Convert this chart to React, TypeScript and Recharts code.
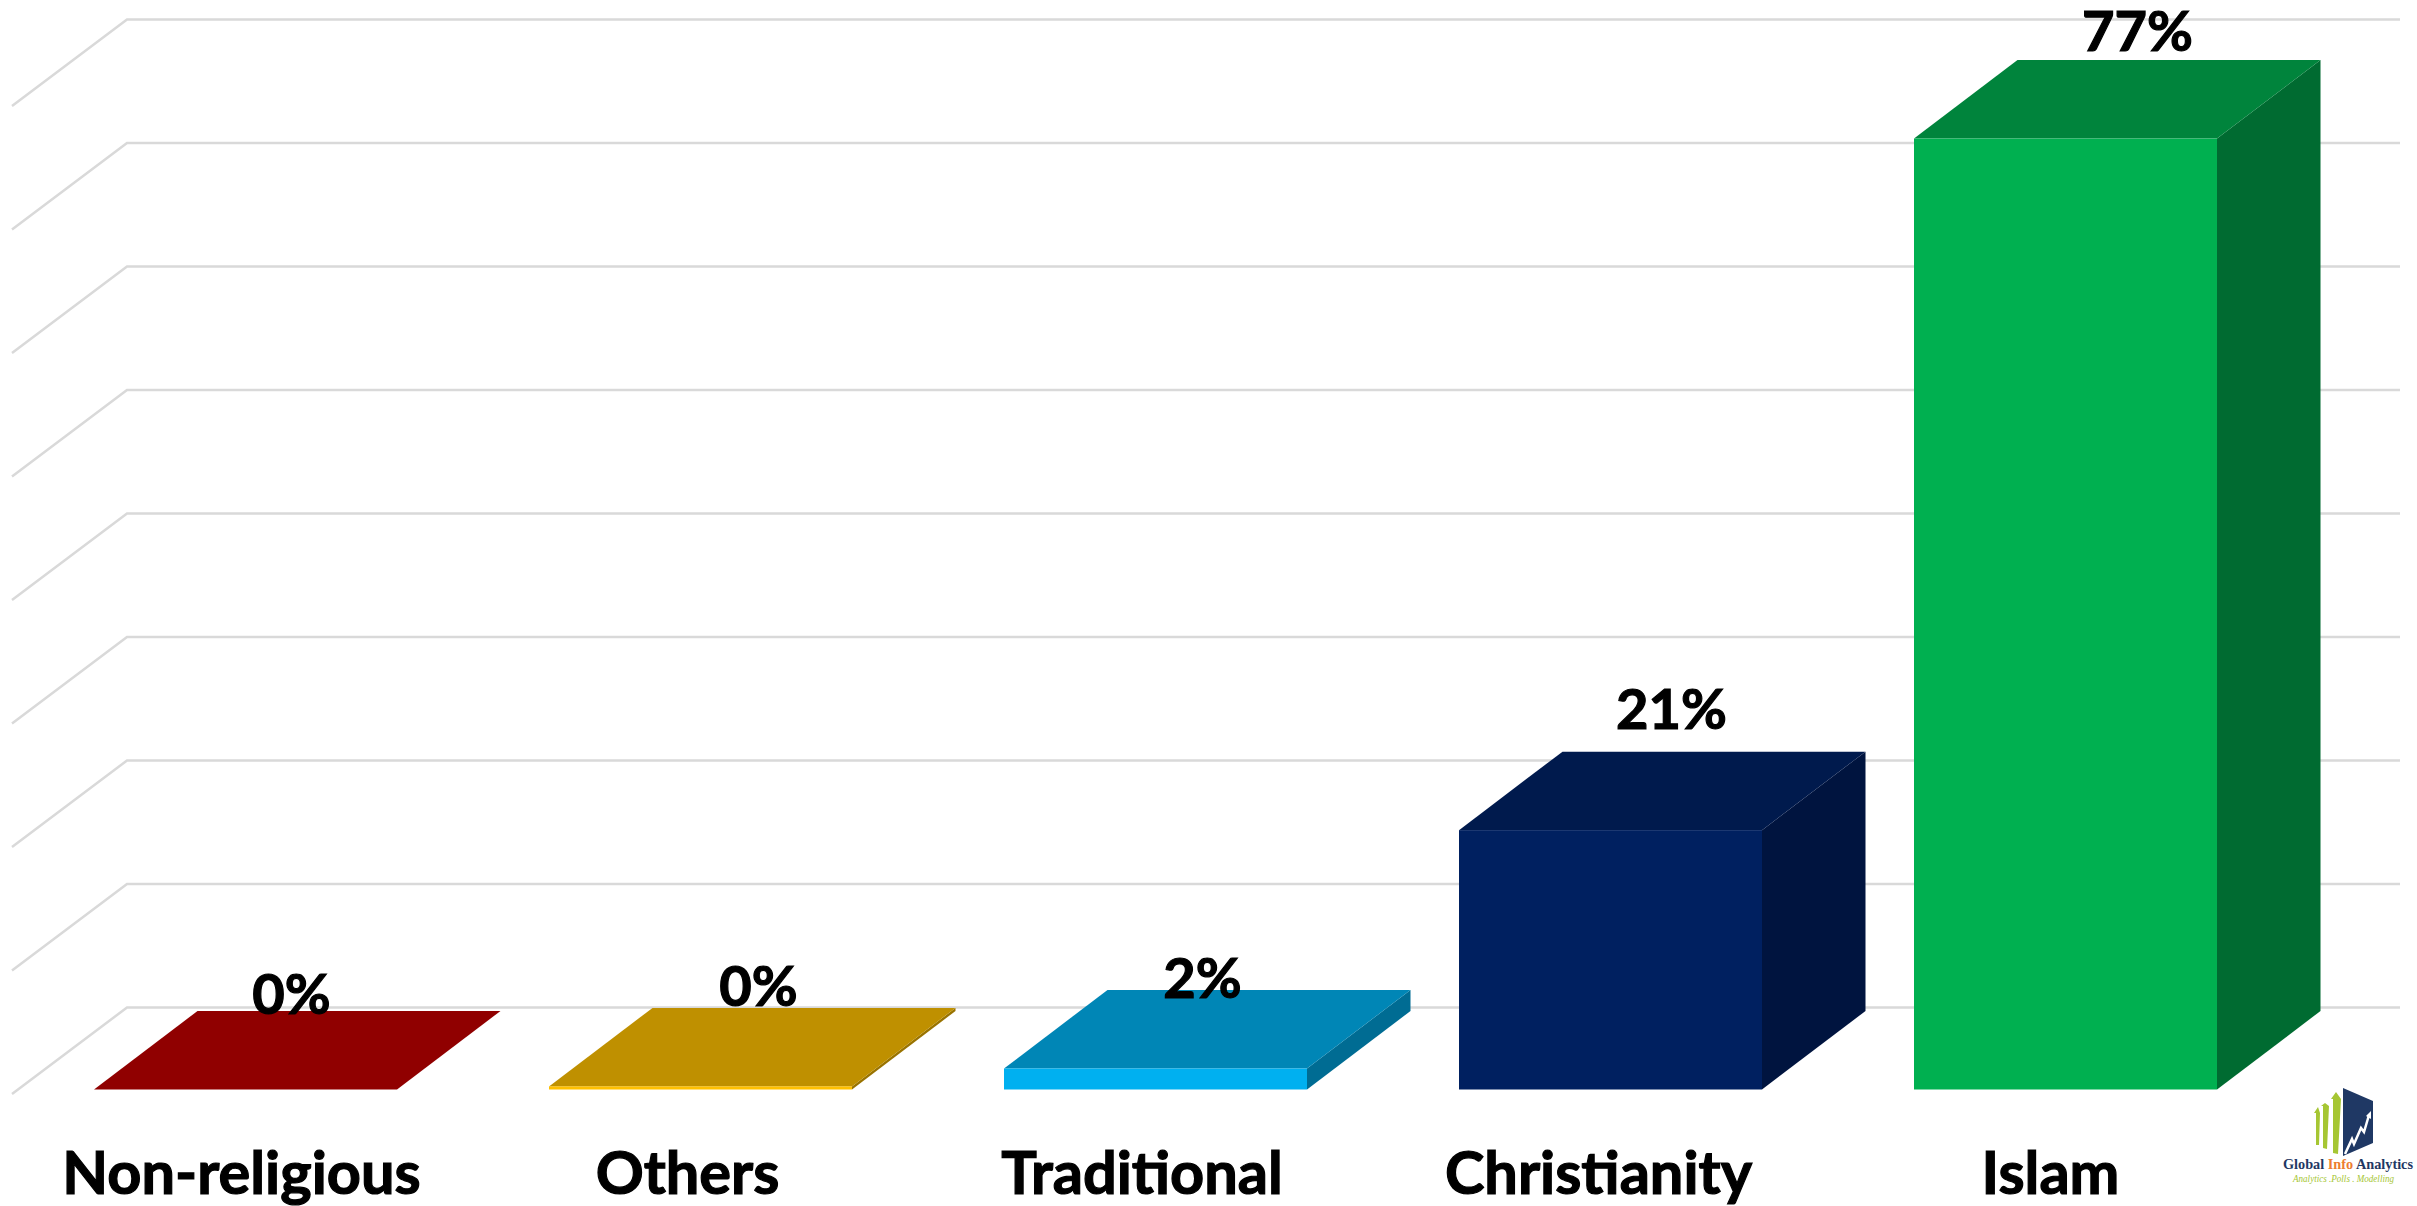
import { BarChart, Bar, XAxis, YAxis, CartesianGrid, LabelList } from "recharts";

const categories = ["Non-religious", "Others", "Traditional", "Christianity", "Islam"];
const shares = [0, 0.25, 1.7, 21, 77];
const shareLabels = ["0%", "0%", "2%", "21%", "77%"];
const gridTicks = [0, 10, 20, 30, 40, 50, 60, 70, 80];

const frontColors = ["#C00000", "#FFC000", "#00B0F0", "#002060", "#00B050"];
const topColors = ["#900000", "#BF9000", "#0086B6", "#001A4D", "#00843C"];
const sideColors = ["#730000", "#997300", "#006C93", "#00143F", "#006B31"];

// hand nudges, the source chart does not centre its labels on the bars
const tickNudge = [-4, -13, -13.5, -12, -15];
const labelNudge = [
  [46, -76],
  [58, -80],
  [47, -71],
  [61, -101],
  [72, -88],
];

const DEPTH_X = 103.5;
const DEPTH_Y = 78.5;
const FONT = "Lato, sans-serif";

const rows = categories.map((name, i) => ({ name, share: shares[i], label: shareLabels[i] }));

function GridLine(props: any) {
  const y = Number(props.y1);
  return (
    <polyline
      points={`12,${y + 4.5} 127,${y - 82} 2400,${y - 82}`}
      fill="none"
      stroke="#D9D9D9"
      strokeWidth={2.5}
    />
  );
}

function Cuboid(props: any) {
  const { x, y, width, height, index } = props;
  const r = x + width;
  const b = y + height;
  return (
    <g>
      <polygon
        points={`${r},${y} ${r + DEPTH_X},${y - DEPTH_Y} ${r + DEPTH_X},${b - DEPTH_Y} ${r},${b}`}
        fill={sideColors[index]}
      />
      <polygon
        points={`${x},${y} ${x + DEPTH_X},${y - DEPTH_Y} ${r + DEPTH_X},${y - DEPTH_Y} ${r},${y}`}
        fill={topColors[index]}
      />
      <rect x={x} y={y} width={width} height={height} fill={frontColors[index]} />
    </g>
  );
}

function ShareLabel(props: any) {
  const box = props.viewBox ?? props;
  const [dx, dy] = labelNudge[props.index];
  return (
    <text
      x={box.x + box.width / 2 + dx}
      y={box.y + dy}
      textAnchor="middle"
      fontFamily={FONT}
      fontWeight={700}
      fontSize={56}
      fill="#000"
      stroke="#000"
      strokeWidth={1.2}
    >
      {props.value}
    </text>
  );
}

function CategoryTick(props: any) {
  return (
    <text
      x={props.x + tickNudge[props.index]}
      y={1193.5}
      textAnchor="middle"
      fontFamily={FONT}
      fontWeight={700}
      fontSize={59.5}
      fill="#000"
      stroke="#000"
      strokeWidth={1.2}
    >
      {props.payload.value}
    </text>
  );
}

function Logo() {
  return (
    <svg width={2417} height={1206} style={{ position: "absolute", left: 0, top: 0, pointerEvents: "none" }}>
      <polygon points="2316,1145 2316,1113 2314,1113 2318,1107 2320,1113 2319,1145" fill="#A6C633" />
      <polygon points="2323,1148 2323,1106 2321,1106 2325,1103 2329,1106 2327,1149" fill="#A6C633" />
      <polygon points="2333,1153 2333,1099 2331,1099 2336,1092 2341,1099 2338,1154" fill="#A6C633" />
      <polygon points="2343,1088 2373,1101 2373,1143 2343,1156" fill="#1F3864" />
      <polyline
        points="2345,1154 2352,1139 2354,1144 2361,1128 2364,1132 2369,1115"
        fill="none"
        stroke="#fff"
        strokeWidth={2.5}
      />
      <polygon points="2366,1116 2371,1111 2371,1119" fill="#fff" />
      <text
        x={2283}
        y={1169}
        textLength={130}
        lengthAdjust="spacingAndGlyphs"
        fontFamily="Liberation Serif"
        fontWeight={700}
        fontSize={15}
        fill="#1F3864"
      >
        Global <tspan fill="#ED7D31">Info</tspan> Analytics
      </text>
      <text
        x={2293}
        y={1182}
        textLength={101}
        lengthAdjust="spacingAndGlyphs"
        fontFamily="Liberation Serif"
        fontStyle="italic"
        fontSize={10}
        fill="#A6C633"
      >
        Analytics .Polls . Modelling
      </text>
    </svg>
  );
}

export default function App() {
  return (
    <div style={{ position: "absolute", left: 0, top: 0, width: 2417, height: 1206, background: "#fff" }}>
      <BarChart
        width={2417}
        height={1206}
        data={rows}
        margin={{ top: 101.5, right: 124, bottom: 0, left: 18 }}
      >
        <CartesianGrid vertical={false} horizontal={(p: any) => <GridLine key={p.key ?? p.index} {...p} />} />
        <XAxis
          dataKey="name"
          interval={0}
          height={116.5}
          axisLine={false}
          tickLine={false}
          tick={(p: any) => <CategoryTick {...p} />}
        />
        <YAxis hide width={0} domain={[0, 80]} ticks={gridTicks} />
        <Bar dataKey="share" barSize={303} isAnimationActive={false} shape={(p: any) => <Cuboid {...p} />}>
          <LabelList dataKey="label" content={(p: any) => <ShareLabel {...p} />} />
        </Bar>
      </BarChart>
      <Logo />
    </div>
  );
}
